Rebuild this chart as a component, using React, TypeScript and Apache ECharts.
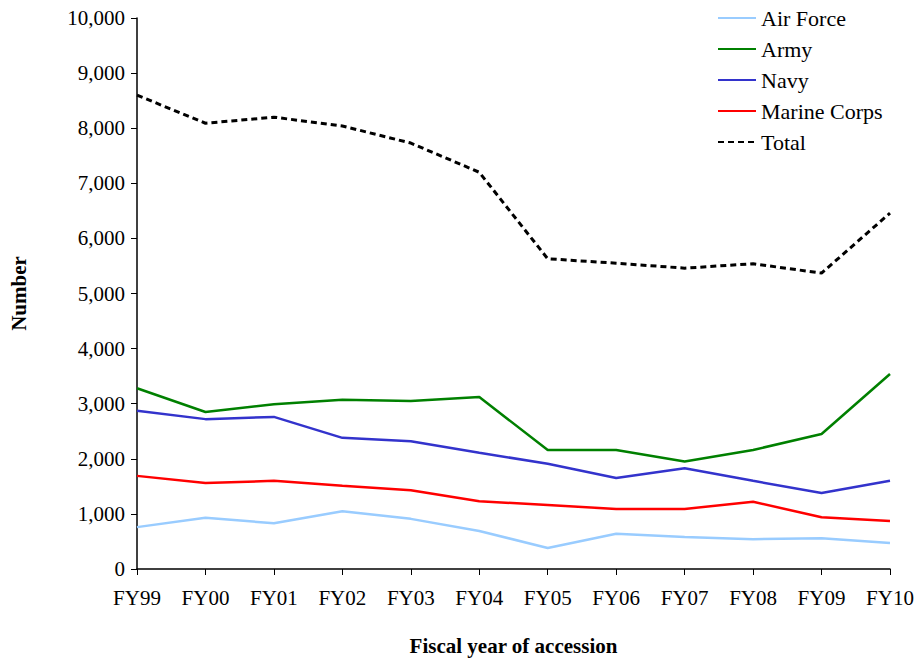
import { useEffect, useRef } from 'react';
import * as echarts from 'echarts';

const years = ['FY99', 'FY00', 'FY01', 'FY02', 'FY03', 'FY04', 'FY05', 'FY06', 'FY07', 'FY08', 'FY09', 'FY10'];
const airForce = [760, 930, 830, 1050, 910, 690, 380, 640, 580, 540, 560, 470];
const army = [3280, 2850, 2990, 3070, 3050, 3120, 2160, 2160, 1950, 2160, 2450, 3540];
const navy = [2870, 2720, 2760, 2380, 2320, 2110, 1910, 1650, 1830, 1600, 1380, 1600];
const marines = [1690, 1560, 1600, 1510, 1430, 1230, 1160, 1090, 1090, 1220, 940, 870];
const total = [8600, 8090, 8200, 8040, 7730, 7200, 5630, 5550, 5460, 5540, 5370, 6460];

const font = 'Liberation Serif';

export default function App() {
  const ref = useRef<HTMLDivElement>(null);

  useEffect(() => {
    if (!ref.current) return;
    const chart = echarts.init(ref.current, undefined, { renderer: 'svg' });
    const line = (name: string, data: number[], color: string, dashed = false) => ({
      name,
      type: 'line' as const,
      data,
      symbol: 'none',
      lineStyle: { color, width: dashed ? 3 : 2.5, type: dashed ? [6, 4] : 'solid' },
      itemStyle: { color },
    });
    chart.setOption({
      animation: false,
      textStyle: { fontFamily: font },
      grid: { left: 137, right: 30, top: 18, bottom: 97, outerBoundsMode: 'none' },
      legend: {
        orient: 'vertical',
        left: 712,
        top: 2,
        itemWidth: 38,
        itemHeight: 3,
        itemGap: 9,
        itemStyle: { opacity: 0 },
        textStyle: { fontFamily: font, fontSize: 22, color: '#000' },
        data: ['Air Force', 'Army', 'Navy', 'Marine Corps', 'Total'],
      },
      xAxis: {
        type: 'category',
        data: years,
        boundaryGap: false,
        name: 'Fiscal year of accession',
        nameLocation: 'middle',
        nameGap: 66,
        nameTextStyle: { fontFamily: font, fontSize: 21, fontWeight: 'bold', color: '#000' },
        axisLine: { lineStyle: { color: '#000', width: 1.5 } },
        axisTick: { alignWithLabel: true, length: 6, lineStyle: { color: '#000' } },
        axisLabel: { fontFamily: font, fontSize: 21, color: '#000', margin: 18 },
      },
      yAxis: {
        type: 'value',
        min: 0,
        max: 10000,
        interval: 1000,
        name: 'Number',
        nameLocation: 'middle',
        nameGap: 108,
        nameTextStyle: { fontFamily: font, fontSize: 21, fontWeight: 'bold', color: '#000' },
        axisLine: { show: true, lineStyle: { color: '#000', width: 1.5 } },
        axisTick: { show: true, length: 6, lineStyle: { color: '#000' } },
        splitLine: { show: false },
        axisLabel: {
          fontFamily: font,
          fontSize: 21,
          color: '#000',
          margin: 12,
          formatter: (v: number) => v.toLocaleString('en-US'),
        },
      },
      series: [
        line('Air Force', airForce, '#99ccff'),
        line('Army', army, '#008000'),
        line('Navy', navy, '#3333cc'),
        line('Marine Corps', marines, '#ff0000'),
        line('Total', total, '#000000', true),
      ],
    });
    return () => chart.dispose();
  }, []);

  return (
    <div
      ref={ref}
      style={{ position: 'absolute', left: 0, top: 0, width: 920, height: 666, background: '#fff' }}
    />
  );
}
